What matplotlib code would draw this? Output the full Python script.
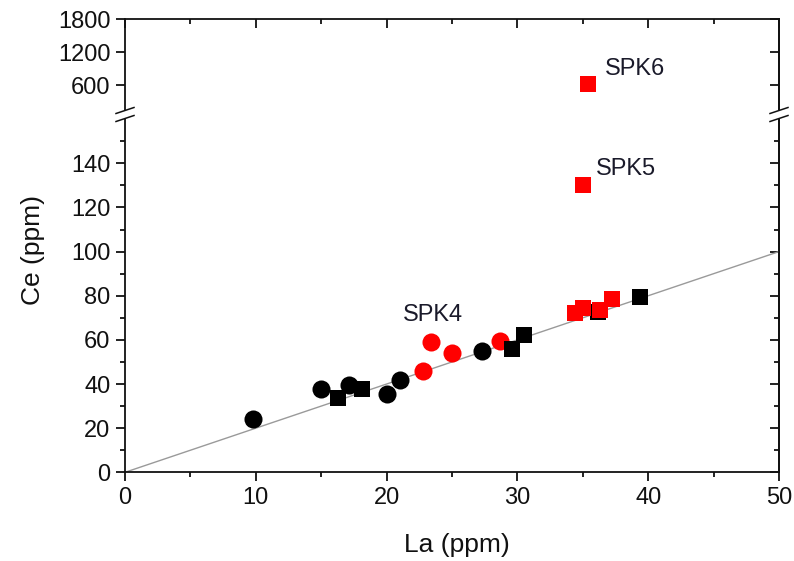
import matplotlib
matplotlib.use("Agg")
import matplotlib.pyplot as plt
from matplotlib.lines import Line2D
from matplotlib.ticker import MultipleLocator, FixedLocator

plt.rcParams['font.family'] = ['Liberation Sans', 'DejaVu Sans']

# Data (La, Ce in ppm)
black_circle_la = [9.8, 15.0, 17.1, 20.0, 21.0, 27.3]
black_circle_ce = [24.1, 37.7, 39.5, 35.5, 41.8, 55.0]
black_square_la = [16.3, 18.1, 29.6, 30.5, 36.2, 39.4]
black_square_ce = [33.8, 37.7, 55.7, 62.2, 72.8, 79.6]
red_circle_la = [23.4, 22.8, 25.0, 28.7]
red_circle_ce = [59.2, 46.0, 53.9, 59.5]
red_square_la = [34.4, 35.0, 36.3, 37.2, 35.0, 35.4]
red_square_ce = [72.0, 74.6, 73.5, 78.4, 130.2, 610.0]
line_la = [0, 50]
line_ce = [0, 100]
labels = ["SPK4", "SPK5", "SPK6"]
label_la = [21.25, 36.0, 36.7]
label_ce = [71.3, 137.4, 891.0]

BREAK = 160

W, H = 794, 561
fig = plt.figure(figsize=(W / 100, H / 100), dpi=100)

def fx(px):
    return px / W

def fy(py):
    return 1 - py / H

left, right = 125, 779
ax_top = fig.add_axes([fx(left), fy(109.8), fx(right) - fx(left), fy(19) - fy(109.8)])
ax = fig.add_axes([fx(left), fy(472.3), fx(right) - fx(left), fy(119.2) - fy(472.3)])

lw = 1.3
TC = '#111111'
for a in (ax, ax_top):
    a.set_xlim(0, 50)
    for s in a.spines.values():
        s.set_linewidth(lw)
        s.set_color(TC)

ax.set_ylim(0, BREAK)
ax_top.set_ylim(150, 1800)

def sel(xs, ys, upper):
    pts = [(x, y) for x, y in zip(xs, ys) if (y > BREAK) == upper]
    return [p[0] for p in pts], [p[1] for p in pts]

def draw(a, upper):
    if not upper:
        a.plot(line_la, line_ce, color='#9a9a9a', lw=1.0, zorder=1)
    x, y = sel(black_circle_la, black_circle_ce, upper)
    a.plot(x, y, 'o', color='black', ms=13, mew=0, zorder=2)
    x, y = sel(red_circle_la, red_circle_ce, upper)
    a.plot(x, y, 'o', color='#ff0000', ms=13, mew=0, zorder=3)
    x, y = sel(black_square_la, black_square_ce, upper)
    a.plot(x, y, 's', color='black', ms=12, mew=0, zorder=4)
    x, y = sel(red_square_la, red_square_ce, upper)
    a.plot(x, y, 's', color='#ff0000', ms=12, mew=0, zorder=5)

draw(ax, False)
draw(ax_top, True)

for t, x, y in zip(labels, label_la, label_ce):
    target = ax_top if y > BREAK else ax
    target.text(x, y, t, fontsize=17, va='center', ha='left', color='#1a1a2a')

FS = 17
# bottom axes styling
ax.spines['top'].set_visible(False)
ax.xaxis.set_major_locator(MultipleLocator(10))
ax.xaxis.set_minor_locator(MultipleLocator(5))
ax.yaxis.set_major_locator(FixedLocator([0, 20, 40, 60, 80, 100, 120, 140]))
ax.yaxis.set_minor_locator(FixedLocator([10, 30, 50, 70, 90, 110, 130, 150]))
ax.tick_params(axis='x', which='both', direction='out', top=False, bottom=True,
               labelsize=FS, pad=4, width=lw, colors=TC)
ax.tick_params(axis='x', which='major', length=6.5)
ax.tick_params(axis='x', which='minor', length=3.8)
ax.tick_params(axis='y', which='both', left=True, right=False, direction='out',
               labelsize=FS, pad=4, width=lw, colors=TC)
ax.tick_params(axis='y', which='major', length=6.5)
ax.tick_params(axis='y', which='minor', length=3.8)
# right side inward ticks
axr = ax.secondary_yaxis('right')
axr.yaxis.set_major_locator(FixedLocator([0, 20, 40, 60, 80, 100, 120, 140]))
axr.yaxis.set_minor_locator(FixedLocator([10, 30, 50, 70, 90, 110, 130, 150]))
axr.tick_params(axis='y', which='both', direction='in', labelright=False, width=lw, colors=TC)
axr.tick_params(axis='y', which='major', length=6.5)
axr.tick_params(axis='y', which='minor', length=3.8)
axr.spines['right'].set_linewidth(lw)
axr.spines['right'].set_color(TC)

# top axes styling
ax_top.spines['bottom'].set_visible(False)
ax_top.xaxis.set_major_locator(MultipleLocator(10))
ax_top.xaxis.set_minor_locator(MultipleLocator(5))
ax_top.tick_params(axis='x', which='both', bottom=False, top=True, labelbottom=False,
                   direction='in', width=lw, colors=TC)
ax_top.tick_params(axis='x', which='major', length=6.5)
ax_top.tick_params(axis='x', which='minor', length=3.8)
ax_top.yaxis.set_major_locator(FixedLocator([600, 1200, 1800]))
ax_top.yaxis.set_minor_locator(FixedLocator([]))
ax_top.tick_params(axis='y', which='major', left=True, right=False, direction='out',
                   length=6.5, labelsize=FS, pad=4, width=lw, colors=TC)
axtr = ax_top.secondary_yaxis('right')
axtr.yaxis.set_major_locator(FixedLocator([600, 1200, 1800]))
axtr.tick_params(axis='y', which='major', direction='in', length=6.5, labelright=False,
                 width=lw, colors=TC)
axtr.spines['right'].set_linewidth(lw)
axtr.spines['right'].set_color(TC)

# break marks
for xc in (left, right):
    for yc in (110.5, 118.5):
        fig.add_artist(Line2D([fx(xc - 9), fx(xc + 9)], [fy(yc + 3), fy(yc - 3)],
                              transform=fig.transFigure, color=TC, lw=1.1))

fig.text(fx(33), fy(250), "Ce (ppm)", rotation=90, ha='center', va='center',
         fontsize=19, color=TC)
fig.text(fx(457), fy(545), "La (ppm)", ha='center', va='center',
         fontsize=19, color=TC)

fig.savefig("out.png", dpi=100)
